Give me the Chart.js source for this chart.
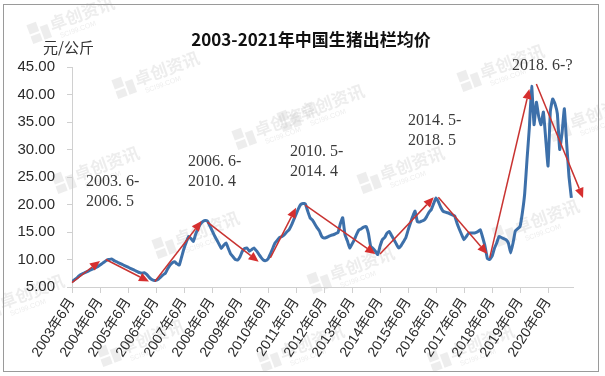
<!DOCTYPE html>
<html>
<head>
<meta charset="utf-8">
<script src="https://cdn.jsdelivr.net/npm/chart.js@4.4.0/dist/chart.umd.min.js"></script>
<style>
  body { margin: 0; background: #fff; }
  canvas { display: block; }
</style>
</head>
<body>
<canvas id="pigchart" width="605" height="376"></canvas>
<script>
// monthly average price, yuan/kg, from 2003.6 (index 0) to 2021.4
const prices = [
  6.0, 6.3, 6.6, 7.0, 7.3, 7.5, 7.7,                               // 2003 6-12
  7.9, 8.1, 8.3, 8.5, 8.7, 9.0, 9.3, 9.6, 9.9, 10.0, 10.1, 9.8,    // 2004
  9.6, 9.4, 9.2, 9.0, 8.8, 8.6, 8.4, 8.2, 8.0, 7.8, 7.6, 7.5,      // 2005
  7.6, 7.3, 6.8, 6.4, 6.2, 6.2, 6.4, 6.8, 7.2, 7.5, 8.3, 9.0,      // 2006
  9.4, 9.6, 9.2, 9.0, 10.5, 12.0, 13.2, 14.2, 13.8, 13.3, 14.6, 15.6, // 2007
  16.4, 16.9, 17.1, 17.0, 16.2, 15.3, 14.4, 13.6, 12.8, 12.0, 12.6, 13.0, // 2008
  12.0, 11.0, 10.5, 10.0, 9.9, 10.5, 11.5, 12.0, 12.1, 11.5, 11.8, 12.1,  // 2009
  11.6, 11.0, 10.4, 9.9, 9.8, 10.1, 11.0, 12.0, 13.0, 13.5, 14.0, 14.2,   // 2010
  14.5, 15.0, 15.4, 16.2, 17.2, 18.2, 19.2, 20.0, 20.2, 20.1, 18.8, 17.6, // 2011
  17.2, 16.5, 15.8, 15.2, 14.2, 13.9, 14.0, 14.2, 14.4, 14.5, 14.7, 14.9, // 2012
  16.5, 17.6, 14.5, 13.4, 12.1, 12.8, 13.6, 14.6, 15.4, 15.6, 15.9, 16.0, // 2013
  14.8, 12.4, 12.0, 11.5, 10.9, 12.4, 13.6, 14.0, 14.8, 15.1, 14.3, 13.6, // 2014
  12.8, 12.1, 12.5, 13.2, 13.9, 15.3, 16.6, 17.8, 18.8, 16.9, 16.8, 17.0, // 2015
  17.2, 17.8, 18.6, 19.1, 20.2, 21.2, 20.5, 19.5, 18.8, 18.6, 18.5, 18.3, // 2016
  18.1, 17.9, 16.6, 15.5, 14.5, 13.6, 14.2, 14.8, 14.8, 14.8, 14.9, 15.1, // 2017
  15.4, 14.0, 12.4, 10.2, 10.0, 10.6, 12.0, 13.0, 14.2, 14.0, 13.8, 13.6, // 2018
  13.0, 11.2, 13.0, 15.2, 15.6, 16.0, 18.5, 22.0, 28.2, 34.0, 41.5, 34.5, // 2019
  38.6, 36.0, 34.5, 36.8, 32.0, 27.0, 37.0, 39.2, 38.3, 36.5, 30.0, 33.0, // 2020
  37.4, 31.0, 25.0, 21.2                                               // 2021 1-4
];

const xTickLabels = ["2003年6月", "2004年6月", "2005年6月", "2006年6月", "2007年6月", "2008年6月",
  "2009年6月", "2010年6月", "2011年6月", "2012年6月", "2013年6月", "2014年6月",
  "2015年6月", "2016年6月", "2017年6月", "2018年6月", "2019年6月", "2020年6月"];

// red trend arrows: month index / price at start and end
const arrowStartMonth = [0, 14.5, 35.5, 58, 85, 100, 132, 157, 179, 199];
const arrowStartPrice = [5.8, 10.0, 6.0, 16.8, 10.3, 19.9, 11.0, 21.3, 10.3, 41.9];
const arrowEndMonth = [12, 33, 55.5, 80, 96, 130, 155, 178, 196, 219];
const arrowEndPrice = [9.75, 6.0, 17.0, 9.6, 19.4, 11.0, 21.3, 11.0, 41.0, 21.2];

const periodLabels = [["2003. 6-", "2006. 5"], ["2006. 6-", "2010. 4"], ["2010. 5-", "2014. 4"],
  ["2014. 5-", "2018. 5"], ["2018. 6-?"]];

const titleText = "2003-2021年中国生猪出栏均价";
const unitText = "元/公斤";

const extras = {
  id: "extras",
  beforeDraw(chart) {
    const c = chart.ctx;
    c.save();
    // watermarks
    const marks = [[70, 22], [155, 77], [275, 128], [95, 172], [500, 70], [320, 110], [400, 172],
      [195, 237], [535, 225], [350, 272], [590, 120], [20, 300], [140, 345], [300, 350], [470, 350]];
    marks.forEach(([wx, wy]) => {
      c.save();
      c.translate(wx, wy);
      c.rotate(-0.35);
      c.fillStyle = "rgba(190,190,190,0.27)";
      c.fillRect(-42, -12, 10, 10);
      c.fillRect(-42, 0, 10, 8);
      c.fillRect(-30, -6, 8, 14);
      c.font = "bold 17px 'Noto Sans CJK SC'";
      c.textBaseline = "middle";
      c.fillText("卓创资讯", -20, -4);
      c.font = "7px 'Liberation Sans'";
      c.fillText("SCI99.COM", -14, 10);
      c.restore();
    });
    c.restore();
  },
  afterDraw(chart) {
    const c = chart.ctx;
    const xs = chart.scales.x, ys = chart.scales.y;
    c.save();
    // arrows
    c.strokeStyle = "#c93331";
    c.fillStyle = "#d62f2f";
    c.lineWidth = 1.5;
    arrowStartMonth.forEach((m, i) => {
      const x0 = xs.getPixelForValue(m), y0 = ys.getPixelForValue(arrowStartPrice[i]);
      const x1 = xs.getPixelForValue(arrowEndMonth[i]), y1 = ys.getPixelForValue(arrowEndPrice[i]);
      const a = Math.atan2(y1 - y0, x1 - x0);
      const hl = 10, hw = 4.5;
      const bx = x1 - hl * Math.cos(a), by = y1 - hl * Math.sin(a);
      c.beginPath();
      c.moveTo(x0, y0);
      c.lineTo(bx, by);
      c.stroke();
      c.beginPath();
      c.moveTo(x1, y1);
      c.lineTo(bx + hw * Math.sin(a), by - hw * Math.cos(a));
      c.lineTo(bx - hw * Math.sin(a), by + hw * Math.cos(a));
      c.closePath();
      c.fill();
    });
    // period text
    const anchorMonth = [6.0, 49.7, 93.4, 144, 188.6];
    const anchorPrice = [24.2, 27.7, 29.5, 35.2, 45.2];
    c.fillStyle = "#3a3a3a";
    c.font = "16px 'Liberation Serif'";
    c.textBaseline = "middle";
    c.textAlign = "left";
    periodLabels.forEach((lines, i) => {
      const px = xs.getPixelForValue(anchorMonth[i]);
      const py = ys.getPixelForValue(anchorPrice[i]);
      lines.forEach((t, j) => c.fillText(t, px, py + j * 20));
    });
    // title and unit
    c.fillStyle = "#111";
    c.font = "bold 17px 'Noto Sans CJK SC'";
    c.textAlign = "center";
    c.fillText(titleText, 311, 40);
    c.fillStyle = "#333";
    c.font = "15px 'Noto Sans CJK SC'";
    c.textAlign = "left";
    c.fillText(unitText, 43, 47);
    // frame
    c.strokeStyle = "#9a9a9a";
    c.lineWidth = 1;
    c.strokeRect(3.5, 4.5, 595, 367);
    c.restore();
  }
};

new Chart(document.getElementById("pigchart"), {
  type: "line",
  data: {
    datasets: [{
      data: prices.map((v, i) => ({ x: i, y: v })),
      borderColor: "#3d70aa",
      borderWidth: 3,
      pointRadius: 0,
      tension: 0.12,
      fill: false
    }]
  },
  options: {
    responsive: false,
    animation: false,
    devicePixelRatio: 1,
    layout: { padding: { left: 0, top: 67, right: 32, bottom: 0 } },
    plugins: { legend: { display: false }, tooltip: { enabled: false } },
    scales: {
      x: {
        type: "linear",
        min: 0,
        max: 214.7,
        afterBuildTicks: (s) => { s.ticks = xTickLabels.map((_, i) => ({ value: i * 12 })); },
        afterFit: (s) => { s.height = 89; },
        ticks: {
          callback: (v, i) => xTickLabels[i],
          autoSkip: false,
          minRotation: 57,
          maxRotation: 57,
          padding: 2,
          color: "#2a2a2a",
          font: { family: "'Liberation Sans', 'Noto Sans CJK SC'", size: 14 }
        },
        grid: { drawOnChartArea: false, tickLength: 6, color: "#d0d0d0" },
        border: { color: "#d0d0d0" }
      },
      y: {
        min: 5,
        max: 45,
        afterFit: (s) => { s.width = 72; },
        ticks: {
          stepSize: 5,
          callback: (v) => v.toFixed(2),
          padding: 12,
          color: "#2a2a2a",
          font: { family: "'Liberation Sans'", size: 15 }
        },
        grid: { drawOnChartArea: false, tickLength: 5, color: "#d0d0d0" },
        border: { color: "#d0d0d0" }
      }
    }
  },
  plugins: [extras]
});
</script>
</body>
</html>
